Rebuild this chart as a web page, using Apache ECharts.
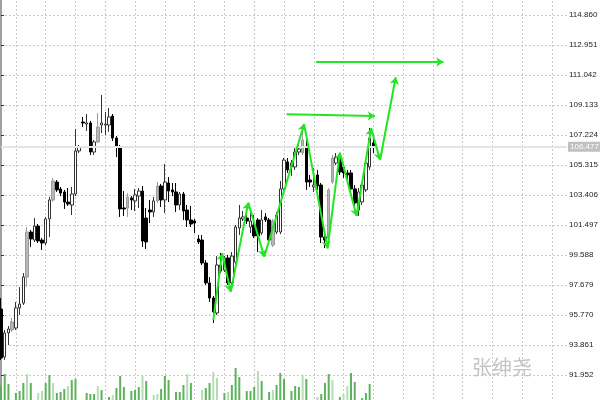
<!DOCTYPE html>
<html><head><meta charset="utf-8">
<script src="https://cdn.jsdelivr.net/npm/echarts@6/dist/echarts.min.js"></script>
<style>html,body{margin:0;padding:0;background:#fff}#c{width:600px;height:400px}</style>
</head><body><div id="c"></div>
<script>
const opens = [96.15,93.10,94.63,94.82,94.94,96.22,96.53,98.19,101.05,100.54,
101.43,100.54,100.35,101.88,103.09,104.23,103.79,103.60,102.96,102.77,
103.47,106.21,108.05,107.92,107.99,106.14,106.78,107.86,107.86,107.86,
108.43,107.03,106.46,102.58,102.58,103.22,103.03,103.34,103.66,101.94,
102.45,102.33,103.03,103.98,103.09,104.17,103.73,103.60,102.77,103.47,
102.45,101.82,101.75,100.61,100.54,99.08,97.81,96.85,95.90,98.95,
98.63,99.40,97.81,99.14,101.31,101.88,101.94,101.37,101.50,101.82,
100.99,102.01,101.82,100.22,101.05,101.05,103.79,105.51,105.19,105.19,
106.14,106.08,106.46,104.36,103.92,104.68,104.04,100.73,100.67,104.23,
105.44,105.76,105.19,104.81,104.81,103.79,102.45,102.96,103.73,105.19,
106.72];
const closes = [93.03,94.63,94.88,95.33,96.22,96.47,98.19,101.05,100.61,101.43,
100.48,100.35,101.88,103.09,104.30,103.73,103.53,102.96,102.83,103.47,
106.21,106.46,107.99,107.99,106.14,106.78,107.73,107.99,107.92,108.37,
107.03,106.52,102.52,102.52,103.28,103.09,103.41,103.66,100.48,100.42,
102.33,103.03,103.98,103.09,104.23,103.66,103.60,102.77,103.47,102.39,
101.82,101.56,101.62,100.42,99.08,97.81,96.85,95.96,98.95,98.57,
99.40,97.81,99.52,101.37,101.94,102.01,101.75,101.75,100.80,100.80,
101.82,101.82,100.54,101.75,102.13,103.79,105.63,105.00,105.44,106.14,
106.33,106.91,104.23,104.23,104.04,103.98,100.73,100.54,103.73,105.76,
105.82,104.87,104.81,104.68,103.79,102.90,103.60,104.04,105.44,107.03,
106.477];
const lows = [92.91,92.91,93.86,94.69,94.82,95.77,96.41,97.55,100.10,100.42,
100.35,99.91,100.22,100.73,102.96,103.60,103.34,102.52,102.71,102.13,
103.34,106.08,107.73,107.48,105.95,105.95,106.72,107.35,107.22,107.42,
106.84,105.82,102.01,102.07,102.01,102.45,102.39,102.58,100.10,99.97,
101.62,102.01,102.90,102.64,102.26,102.96,103.34,102.33,102.45,101.82,
101.37,101.37,100.99,100.29,98.95,97.68,96.60,95.26,95.77,98.44,
98.51,97.68,97.68,99.02,100.86,101.75,101.56,100.99,100.67,99.78,
100.86,101.69,100.35,100.10,100.92,100.92,103.73,104.81,104.62,105.00,
105.95,105.95,103.73,103.92,103.60,103.73,100.35,100.03,100.42,104.11,
105.31,104.68,104.49,104.36,103.41,102.45,102.07,102.77,103.60,105.00,
106.08];
const highs = [96.85,94.82,95.07,95.58,96.60,97.55,98.44,101.37,101.18,101.94,
101.56,100.67,102.01,103.28,104.49,104.36,103.92,103.73,103.85,103.92,
107.61,106.59,108.37,108.56,108.12,106.91,108.62,109.77,108.69,108.94,
108.56,107.16,106.59,103.66,103.53,103.34,103.79,103.85,103.98,102.58,
103.09,103.28,104.23,104.11,105.38,104.55,104.17,104.17,103.60,103.60,
102.77,102.71,101.88,100.86,100.86,99.27,98.19,96.98,99.52,99.72,
99.52,99.59,99.78,101.50,102.77,102.39,102.13,102.33,102.13,101.94,
102.45,102.26,101.94,101.88,102.33,104.30,105.76,105.76,105.63,106.40,
106.72,107.86,106.91,104.68,105.12,105.00,104.17,100.92,103.85,105.95,
106.08,106.08,105.31,105.00,105.00,104.04,103.85,104.17,105.63,107.67,
106.97];
const volumes = [15,26,16,0,7,9,17,26,17,0,
7,9,17,25,17,7,8,11,14,20,
21,0,0,7,6,6,14,10,0,3,
5,12,24,13,0,9,10,13,24,19,
0,5,6,11,24,20,0,8,8,15,
26,17,0,0,10,12,17,28,22,0,
7,8,15,32,23,0,9,9,13,29,
19,0,8,10,15,27,21,0,9,14,
13,25,21,0,0,3,6,17,26,20,
0,3,6,14,27,18,0,2,7,16,
0];
const lightVolumeIdx = [7,10,11,14,18,26,30,38,41,42,50,54,57,58,61,69,73,81,85,89,92,93];
const grayCandleIdx = [3,7,14,26,34,42,73,81,88,89];
// hand-drawn zigzag (bar position, price)
const zigzagX = [57.0,59.4,61.7,66.4,70.7,81.4,87.7,91.0,95.5,99.4,101.8,106.0];
const zigzagY = [95.45,99.70,97.25,102.92,99.48,107.92,100.01,106.10,102.07,107.65,105.63,110.90];
const arrowStartX = [76.7, 84.6];
const arrowStartY = [108.54, 111.87];
const arrowEndX = [100.4, 118.8];
const arrowEndY = [108.43, 111.87];
const firstTick = 91.952;
const tickStep = 1.909;
const lastTick = 114.860;
const slotCount = 153;
const watermark = '张绅尧';

const cats = Array.from({length: slotCount}, (_, i) => String(i));
const lastClose = closes[closes.length - 1];
const candleData = opens.map((o, i) => {
  const item = {value: [o, closes[i], lows[i], highs[i]]};
  if (grayCandleIdx.includes(i)) {
    item.itemStyle = {color: '#b8b8b8', color0: '#b8b8b8', borderColor: '#9a9a9a', borderColor0: '#9a9a9a'};
  }
  return item;
});
const volData = volumes.map((v, i) => ({
  value: v,
  itemStyle: {color: lightVolumeIdx.includes(i) ? '#b5dcb5' : '#5cb35c'}
}));
const lineData = [];
for (let i = 0; i < zigzagX.length - 1; i++) {
  lineData.push({coords: [[zigzagX[i], zigzagY[i]], [zigzagX[i + 1], zigzagY[i + 1]]]});
}
for (let i = 0; i < arrowStartX.length; i++) {
  lineData.push({coords: [[arrowStartX[i], arrowStartY[i]], [arrowEndX[i], arrowEndY[i]]]});
}

const chart = echarts.init(document.getElementById('c'), null, {renderer: 'canvas'});
const gridStyle = {show: true, lineStyle: {color: '#c8c8c8', type: [2, 2], width: 1}};
chart.setOption({
  animation: false,
  backgroundColor: '#ffffff',
  grid: [
    {left: 1, right: 33, top: -15, bottom: -5, outerBoundsMode: 'none', containLabel: false},
    {left: 1, right: 33, top: 360, bottom: 0, outerBoundsMode: 'none', containLabel: false}
  ],
  xAxis: [
    {type: 'category', gridIndex: 0, data: cats, boundaryGap: false,
     axisLine: {show: false}, axisTick: {show: false}, axisLabel: {show: false},
     splitLine: Object.assign({interval: (i) => i % 8 === 4}, gridStyle)},
    {type: 'value', gridIndex: 0, min: 0, max: slotCount - 1, show: false, splitLine: {show: false}},
    {type: 'category', gridIndex: 1, data: cats, boundaryGap: false, show: false}
  ],
  yAxis: [
    {type: 'value', gridIndex: 0, position: 'right', scale: true,
     min: firstTick - tickStep, max: lastTick + tickStep, interval: tickStep,
     axisLine: {show: true, lineStyle: {color: '#a0a0a0', width: 2}},
     axisTick: {show: true, length: 3, lineStyle: {color: '#333'}},
     axisLabel: {formatter: (v) => v.toFixed(3), fontSize: 8, color: '#222', margin: 2,
                 fontFamily: 'Liberation Sans'},
     splitLine: gridStyle},
    {type: 'value', gridIndex: 1, min: 0, max: 40, show: false, splitLine: {show: false}}
  ],
  series: [
    {type: 'candlestick', xAxisIndex: 0, yAxisIndex: 0, data: candleData, barWidth: 3,
     itemStyle: {color: '#ffffff', color0: '#000000', borderColor: '#333333', borderColor0: '#000000', borderWidth: 1},
     markLine: {silent: true, symbol: 'none', animation: false,
       data: [{yAxis: lastClose}],
       lineStyle: {color: '#e4e4e4', width: 2, type: 'solid'},
       label: {position: 'end', formatter: () => lastClose.toFixed(3), backgroundColor: '#c0c0c0',
               color: '#ffffff', fontSize: 8, fontFamily: 'Liberation Sans', padding: [1, 2], distance: 1}}},
    {type: 'bar', xAxisIndex: 2, yAxisIndex: 1, data: volData, barWidth: 2},
    {type: 'lines', coordinateSystem: 'cartesian2d', xAxisIndex: 1, yAxisIndex: 0, z: 5,
     symbol: ['none', 'arrow'], symbolSize: 7,
     lineStyle: {color: '#22e622', width: 2, opacity: 1},
     data: lineData}
  ],
  graphic: [{type: 'text', left: 472, top: 357, z: 10,
    style: {text: watermark, font: '20px "Noto Sans CJK SC"', fill: '#c4c4c4'}}]
});
</script></body></html>
